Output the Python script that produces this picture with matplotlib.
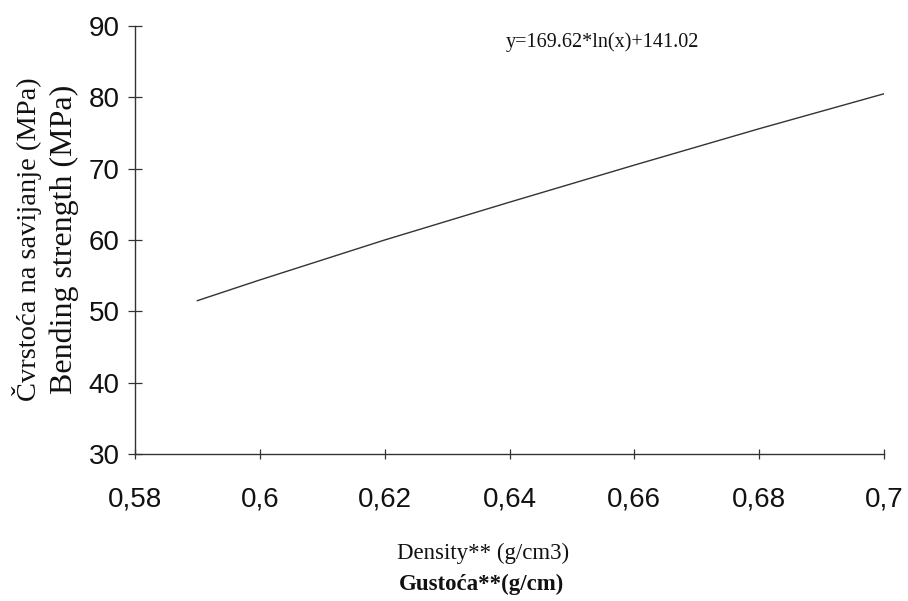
import matplotlib
matplotlib.use("Agg")
import matplotlib.pyplot as plt

# Data
density = [0.59, 0.60, 0.62, 0.64, 0.66, 0.68, 0.70]
strength = [51.5, 54.4, 60.0, 65.3, 70.5, 75.6, 80.5]

x_ticks = [0.58, 0.60, 0.62, 0.64, 0.66, 0.68, 0.70]
x_ticklabels = ["0,58", "0,6", "0,62", "0,64", "0,66", "0,68", "0,7"]
y_ticks = [30, 40, 50, 60, 70, 80, 90]
y_ticklabels = ["30", "40", "50", "60", "70", "80", "90"]

equation = "y=169.62*ln(x)+141.02"
ylabel_1 = "Čvrstoća na savijanje (MPa)"
ylabel_2 = "Bending strength (MPa)"
xlabel_1 = "Density** (g/cm3)"
xlabel_2 = "Gustoća**(g/cm)"

fig = plt.figure(figsize=(9.08, 6.01), dpi=100)
ax = fig.add_axes([135/908, 1-454/601, (884-135)/908, (454-26)/601])

ax.plot(density, strength, color="#333333", lw=1.0)

ax.set_xlim(0.58, 0.70)
ax.set_ylim(30, 90)
ax.set_xticks(x_ticks)
ax.set_xticklabels(x_ticklabels)
ax.set_yticks(y_ticks)
ax.set_yticklabels(y_ticklabels)

for s in ["top", "right"]:
    ax.spines[s].set_visible(False)
for s in ["left", "bottom"]:
    ax.spines[s].set_color("#333333")
    ax.spines[s].set_linewidth(1.0)

ax.tick_params(axis="both", direction="inout", width=0.9, color="#333333",
               labelsize=20, labelcolor="#111111")
ax.tick_params(axis="x", length=7, pad=20)
ax.tick_params(axis="y", length=10, pad=6)
for lab in ax.get_xticklabels() + ax.get_yticklabels():
    lab.set_family(["Liberation Sans", "DejaVu Sans"])

serif = ["Liberation Serif", "DejaVu Serif"]
ax.text(602/908, 1-42/601, equation, transform=fig.transFigure, fontsize=14.5,
        family=serif, ha="center", va="center", color="#111111")

fig.text(27/908, 1-239/601, ylabel_1, rotation=90, ha="center", va="center",
         fontsize=20.5, family=serif, color="#111111")
fig.text(64/908, 1-239/601, ylabel_2, rotation=90, ha="center", va="center",
         fontsize=23, family=serif, color="#111111")

fig.text(483/908, 1-553/601, xlabel_1, ha="center", va="center",
         fontsize=16.5, family=serif, color="#111111")
fig.text(482/908, 1-584/601, xlabel_2, ha="center", va="center",
         fontsize=16.5, family=serif, color="#111111", fontweight="bold")

fig.savefig("out.png", dpi=100, facecolor="white")
